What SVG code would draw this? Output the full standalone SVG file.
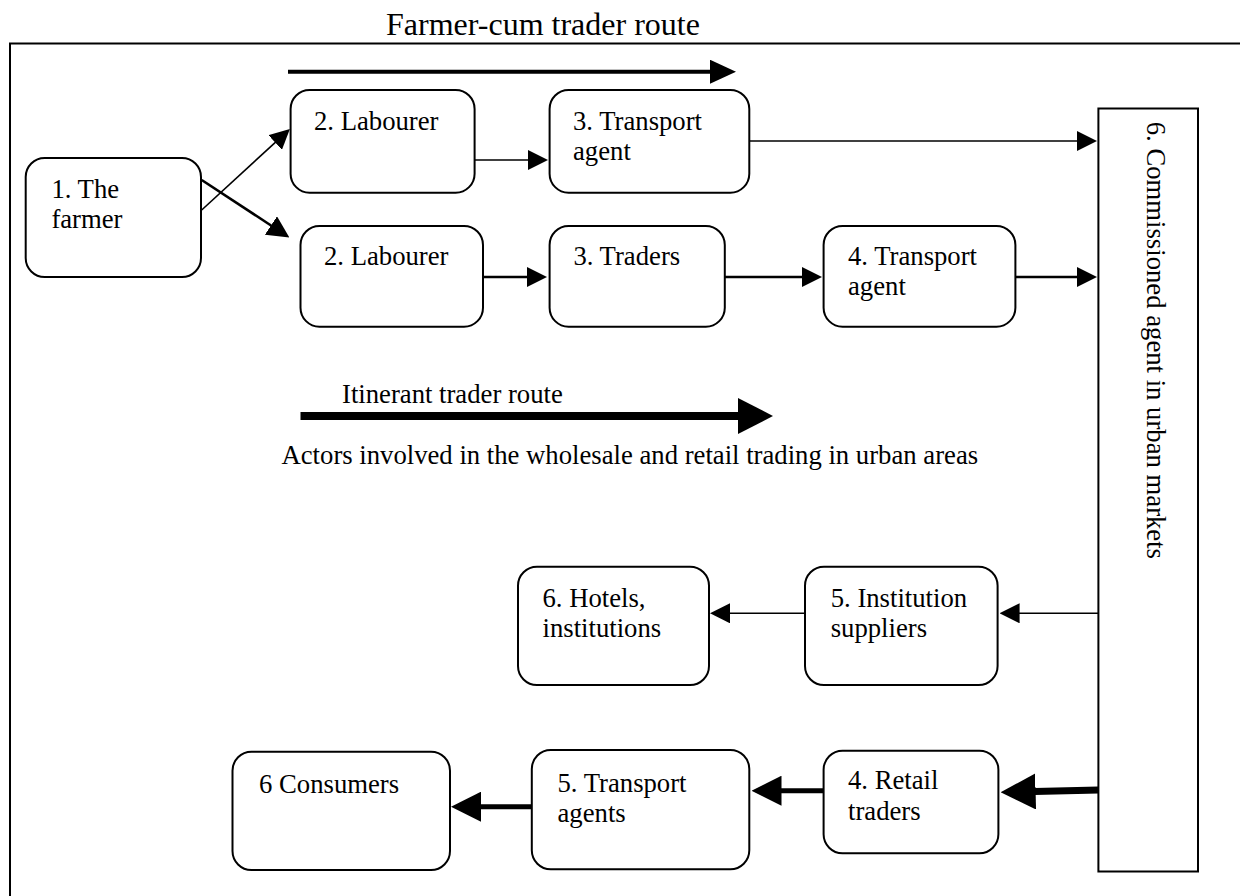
<svg xmlns="http://www.w3.org/2000/svg" width="1240" height="896" viewBox="0 0 1240 896">
  <style>
    text { font-family: "Liberation Serif", "Times New Roman", serif; font-size: 26.7px; fill: #000; }
    .title { font-size: 32px; }
    .box { fill: #fff; stroke: #000; stroke-width: 2; }
    .frame { fill: none; stroke: #000; stroke-width: 2; }
    .c1 { fill: none; stroke: #000; stroke-width: 1.6; }
    .c2 { fill: none; stroke: #000; stroke-width: 2.6; }
    .c4 { fill: none; stroke: #000; stroke-width: 4; }
    .c5 { fill: none; stroke: #000; stroke-width: 5; }
    .c7 { fill: none; stroke: #000; stroke-width: 7; }
    .c8 { fill: none; stroke: #000; stroke-width: 8; }
  </style>
  <defs>
    <!-- arrowheads: reference point sits on the base of the triangle -->
    <marker id="ah-s" markerUnits="userSpaceOnUse" viewBox="0 -10 20 20" markerWidth="20" markerHeight="20" refX="1" refY="0" orient="auto">
      <path d="M0,-10 L20,0 L0,10 Z" fill="#000"/>
    </marker>
    <marker id="ah-m" markerUnits="userSpaceOnUse" viewBox="0 -11 22 22" markerWidth="22" markerHeight="22" refX="1" refY="0" orient="auto">
      <path d="M0,-11 L22,0 L0,11 Z" fill="#000"/>
    </marker>
    <marker id="ah-w" markerUnits="userSpaceOnUse" viewBox="0 -12 26 24" markerWidth="26" markerHeight="24" refX="1" refY="0" orient="auto">
      <path d="M0,-12 L26,0 L0,12 Z" fill="#000"/>
    </marker>
    <marker id="ah-l" markerUnits="userSpaceOnUse" viewBox="0 -15 30 30" markerWidth="30" markerHeight="30" refX="1" refY="0" orient="auto">
      <path d="M0,-15 L30,0 L0,15 Z" fill="#000"/>
    </marker>
    <marker id="ah-xl" markerUnits="userSpaceOnUse" viewBox="0 -18 35 36" markerWidth="35" markerHeight="36" refX="1" refY="0" orient="auto">
      <path d="M0,-18 L35,0 L0,18 Z" fill="#000"/>
    </marker>
  </defs>

  <rect width="1240" height="896" fill="#fff"/>

  <!-- outer frame (top and left edges) -->
  <path class="frame" d="M10,896 L10,43.5 L1240,43.5"/>

  <text class="title" x="386" y="35">Farmer-cum trader route</text>

  <!-- connectors -->
  <g id="connectors">
    <!-- farmer-cum trader route legend -->
    <line class="c4" x1="288" y1="71.7" x2="711" y2="71.7" marker-end="url(#ah-w)"/>
    <!-- itinerant trader route legend -->
    <line class="c8" x1="300.5" y1="416" x2="739" y2="416" marker-end="url(#ah-xl)"/>

    <line class="c1" x1="201.7" y1="210" x2="275.9" y2="141.8" marker-end="url(#ah-s)"/>
    <line class="c2" x1="201.7" y1="180" x2="271.8" y2="226" marker-end="url(#ah-m)"/>

    <line class="c1" x1="475" y1="160" x2="529" y2="160" marker-end="url(#ah-s)"/>
    <line class="c1" x1="749.3" y1="141" x2="1078" y2="141" marker-end="url(#ah-s)"/>

    <line class="c2" x1="483" y1="277" x2="528" y2="277" marker-end="url(#ah-s)"/>
    <line class="c2" x1="724.8" y1="277" x2="803" y2="277" marker-end="url(#ah-s)"/>
    <line class="c2" x1="1015.4" y1="277" x2="1078" y2="277" marker-end="url(#ah-s)"/>

    <line class="c1" x1="1098.4" y1="613.3" x2="1018.6" y2="613.3" marker-end="url(#ah-s)"/>
    <line class="c1" x1="805" y1="613.3" x2="729" y2="613.3" marker-end="url(#ah-s)"/>

    <line class="c7" x1="1098.4" y1="790" x2="1034.6" y2="791.5" marker-end="url(#ah-xl)"/>
    <line class="c5" x1="823.6" y1="790.7" x2="780.5" y2="790.7" marker-end="url(#ah-l)"/>
    <line class="c5" x1="531.8" y1="806.7" x2="480" y2="806.7" marker-end="url(#ah-l)"/>
  </g>

  <g id="n-farmer">
    <rect class="box" x="25.7" y="158" width="175.3" height="119" rx="19"/>
    <text x="51.4" y="198">1. The</text>
    <text x="51.4" y="228">farmer</text>
  </g>
  <g id="n-labourer-a">
    <rect class="box" x="290.6" y="90" width="184" height="102.7" rx="19"/>
    <text x="314" y="130">2. Labourer</text>
  </g>
  <g id="n-transport-a">
    <rect class="box" x="549.6" y="90" width="199.7" height="102.7" rx="19"/>
    <text x="573" y="130">3. Transport</text>
    <text x="573" y="160">agent</text>
  </g>
  <g id="n-labourer-b">
    <rect class="box" x="300.5" y="226" width="182.5" height="100.7" rx="19"/>
    <text x="324" y="265">2. Labourer</text>
  </g>
  <g id="n-traders">
    <rect class="box" x="549.6" y="226" width="175.2" height="100.7" rx="19"/>
    <text x="573.4" y="265">3. Traders</text>
  </g>
  <g id="n-transport-b">
    <rect class="box" x="823.6" y="226" width="191.8" height="100.7" rx="19"/>
    <text x="848" y="265">4. Transport</text>
    <text x="848" y="295">agent</text>
  </g>
  <g id="n-commissioned">
    <rect class="box" x="1098.4" y="108.5" width="99.6" height="763"/>
    <text transform="translate(1147,121.7) rotate(90)">6. Commissioned agent in urban markets</text>
  </g>

  <text x="342" y="403">Itinerant trader route</text>
  <text x="281.5" y="464">Actors involved in the wholesale and retail trading in urban areas</text>

  <g id="n-hotels">
    <rect class="box" x="518" y="566.7" width="191" height="118.3" rx="19"/>
    <text x="542.5" y="606.7">6. Hotels,</text>
    <text x="542.5" y="636.7">institutions</text>
  </g>
  <g id="n-institution-suppliers">
    <rect class="box" x="805" y="566.7" width="192.6" height="118.3" rx="19"/>
    <text x="830.7" y="606.7">5. Institution</text>
    <text x="830.7" y="636.7">suppliers</text>
  </g>
  <g id="n-consumers">
    <rect class="box" x="232.5" y="751.7" width="217.5" height="118.3" rx="19"/>
    <text x="259" y="792.7">6 Consumers</text>
  </g>
  <g id="n-transport-agents">
    <rect class="box" x="531.8" y="750" width="217.5" height="119.3" rx="19"/>
    <text x="557.5" y="791.7">5. Transport</text>
    <text x="557.5" y="821.7">agents</text>
  </g>
  <g id="n-retail">
    <rect class="box" x="823.6" y="750.7" width="174.8" height="102.6" rx="19"/>
    <text x="848" y="789.3">4. Retail</text>
    <text x="848" y="820">traders</text>
  </g>
</svg>
